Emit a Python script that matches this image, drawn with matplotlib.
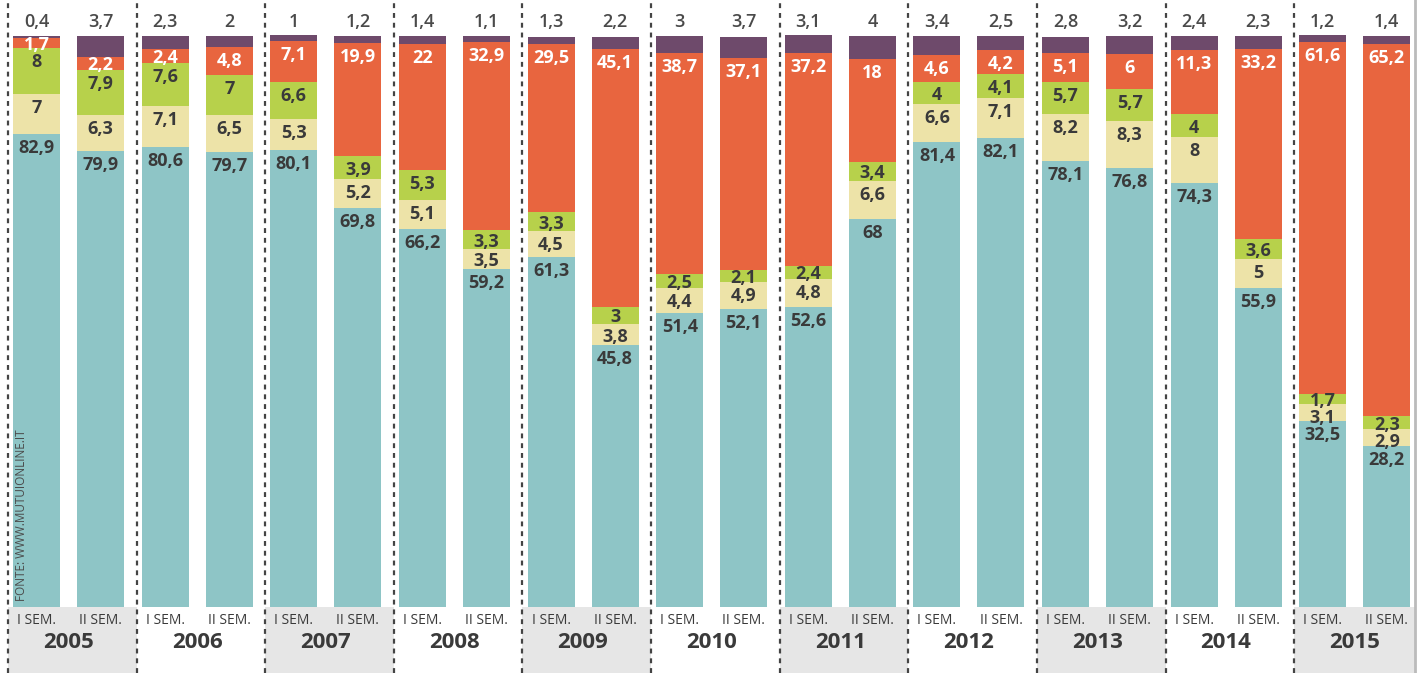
import matplotlib.pyplot as plt
from matplotlib.patches import Rectangle

YEARS = ["2005", "2006", "2007", "2008", "2009", "2010",
         "2011", "2012", "2013", "2014", "2015"]
SEMESTERS = ["I SEM.", "II SEM."]

# one value per bar, bar order: 2005 I, 2005 II, 2006 I, ...
TEAL = [82.9, 79.9, 80.6, 79.7, 80.1, 69.8, 66.2, 59.2, 61.3, 45.8, 51.4,
        52.1, 52.6, 68, 81.4, 82.1, 78.1, 76.8, 74.3, 55.9, 32.5, 28.2]
BEIGE = [7, 6.3, 7.1, 6.5, 5.3, 5.2, 5.1, 3.5, 4.5, 3.8, 4.4,
         4.9, 4.8, 6.6, 6.6, 7.1, 8.2, 8.3, 8, 5, 3.1, 2.9]
GREEN = [8, 7.9, 7.6, 7, 6.6, 3.9, 5.3, 3.3, 3.3, 3, 2.5,
         2.1, 2.4, 3.4, 4, 4.1, 5.7, 5.7, 4, 3.6, 1.7, 2.3]
ORANGE = [1.7, 2.2, 2.4, 4.8, 7.1, 19.9, 22, 32.9, 29.5, 45.1, 38.7,
          37.1, 37.2, 18, 4.6, 4.2, 5.1, 6, 11.3, 33.2, 61.6, 65.2]
PURPLE = [0.4, 3.7, 2.3, 2, 1, 1.2, 1.4, 1.1, 1.3, 2.2, 3,
          3.7, 3.1, 4, 3.4, 2.5, 2.8, 3.2, 2.4, 2.3, 1.2, 1.4]

SERIES = [
    (TEAL, "#8EC5C6", "#3A3A3A"),
    (BEIGE, "#EDE3A8", "#3A3A3A"),
    (GREEN, "#B7D14B", "#3A3A3A"),
    (ORANGE, "#E8653F", "white"),
]
PURPLE_COLOR = "#6E4A6B"
BAND_COLOR = "#E6E6E6"
TEXT_DARK = "#3A3A3A"

BAR_OFFSETS = [0.222, 0.72]
BAR_WIDTH = 0.365
Y_MIN, Y_MAX = -11.56, 106.3
X_MIN, X_MAX = -0.062, 10.97
PX_PER_UNIT = 5.71  # vertical pixels per percentage point


def fmt(v: float) -> str:
    return f"{v:g}".replace(".", ",")


def label_centers(tops: list[float], heights: list[float]) -> list[float]:
    """Label y for segments listed top to bottom, pushed apart so they don't pile up."""
    max_off = 12 / PX_PER_UNIT
    gap = 17 / PX_PER_UNIT
    out = []
    for top, h in zip(tops, heights):
        y = top - min(max_off, h / 2)
        if out:
            y = min(y, out[-1] - gap)
        out.append(y)
    return out


def main() -> None:
    plt.rcParams["font.family"] = ["Open Sans", "DejaVu Sans"]
    fig = plt.figure(figsize=(14.19, 6.73), dpi=100)
    ax = fig.add_axes([0, 0, 1, 1])
    ax.set_xlim(X_MIN, X_MAX)
    ax.set_ylim(Y_MIN, Y_MAX)
    ax.axis("off")

    # grey bands under every other year
    for k in range(0, len(YEARS), 2):
        right = min(k + 1, 10.94)
        ax.add_patch(Rectangle((k, Y_MIN), right - k, -Y_MIN,
                               facecolor=BAND_COLOR, edgecolor="none", zorder=0))

    # dashed separators between years
    for k in range(len(YEARS)):
        ax.plot([k, k], [Y_MIN, Y_MAX], color="#444444", lw=1.6,
                dashes=(2.2, 2.2), zorder=1)
    ax.plot([10.94, 10.94], [Y_MIN, Y_MAX], color="#BBBBBB", lw=2, zorder=1)

    for i in range(len(TEAL)):
        year_idx, sem = divmod(i, 2)
        x = year_idx + BAR_OFFSETS[sem]
        bottom = 0.0
        segs = []
        for values, color, txt_color in SERIES:
            v = values[i]
            ax.bar(x, v, BAR_WIDTH, bottom=bottom, color=color, zorder=2)
            segs.append((bottom + v, v, txt_color))
            bottom += v
        ax.bar(x, PURPLE[i], BAR_WIDTH, bottom=bottom, color=PURPLE_COLOR,
               zorder=2)

        segs = segs[::-1]  # top to bottom
        ys = label_centers([s[0] for s in segs], [s[1] for s in segs])
        for (top, v, txt_color), y in zip(segs, ys):
            ax.text(x, y, fmt(v), ha="center", va="center_baseline",
                    fontsize=13, fontweight="bold", color=txt_color, zorder=4)

        ax.annotate(fmt(PURPLE[i]), (x, 100), xytext=(0, 3.5),
                    textcoords="offset points", ha="center", va="bottom",
                    fontsize=13, fontweight="semibold", color="#4A4A4A",
                    zorder=4)
        ax.text(x, -2.3, SEMESTERS[sem], ha="center", va="center",
                fontsize=10, color=TEXT_DARK, zorder=3)

    for k, year in enumerate(YEARS):
        ax.text(k + 0.47, -6.3, year, ha="center", va="center",
                fontsize=16, fontweight="bold", color=TEXT_DARK, zorder=3)

    ax.text(0.109, 16.1, "FONTE: WWW.MUTUIONLINE.IT", rotation=90,
            ha="center", va="center", fontsize=8.5, color="#4A4A4A", zorder=4)

    fig.savefig("out.png", dpi=100)
    plt.close(fig)


if __name__ == "__main__":
    main()
